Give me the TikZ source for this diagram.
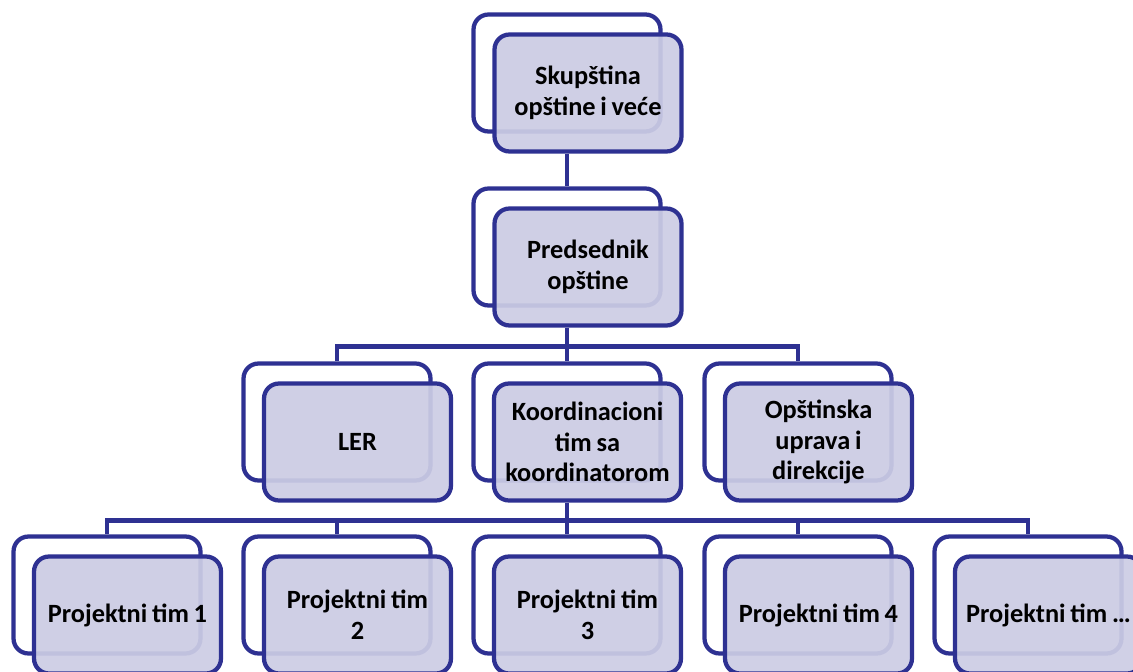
\documentclass[tikz,border=0pt]{standalone}
\usepackage{fontspec}
\setmainfont{Carlito}[WordSpace=0.8]
\definecolor{orgblue}{RGB}{46,49,146}
\definecolor{orgfill}{RGB}{204,204,228}
\tikzset{
  frame/.style={draw=orgblue, line width=0.085cm, rounded corners=0.3cm, fill=white,
    minimum width=3.74cm, minimum height=2.34cm},
  card/.style={frame, fill=orgfill, fill opacity=0.93, text opacity=1, align=flush center,
    text width=3.5cm, font=\bfseries\fontsize{15}{17.5}\selectfont},
  link/.style={draw=orgblue, line width=0.085cm}
}
\begin{document}
\begin{tikzpicture}[x=0.02cm,y=-0.02cm]
    \clip (0,0) rectangle (1133,672);
    % top two levels
    \node[frame] (sk-b) at (567,73) {};
    \node[card] (sk) at (588,93) {Skupština\\ opštine i veće};
    \node[frame] (pr-b) at (567,247) {};
    \node[card] (pr) at (588,267) {Predsednik\\ opštine};
    \draw[link] (sk-b.south |- sk.south) -- (pr-b.north);
    % third level
    \foreach \n/\x/\t in {
        ler/337/LER,
        ko/567/{Koordinacioni\\ tim sa\\ koordinatorom},
        op/798/{Opštinska\\ uprava i\\ direkcije}}{
            \node[frame] (\n-b) at (\x,422) {};
            \node[card] (\n) at (\x+20.5,442) {\t};
    }
    \draw[link] (pr-b.south |- pr.south) -- ++(0,19) coordinate (j1);
    \draw[link] (ler-b.north) |- (j1) -| (op-b.north);
    \draw[link] (j1) -- (ko-b.north);
    % project teams
    \foreach \n/\x/\t in {
        t1/107/Projektni tim 1,
        t2/337/{Projektni tim\\ 2},
        t3/567/{Projektni tim\\ 3},
        t4/798/Projektni tim 4,
        t5/1028/Projektni tim …}{
            \node[frame] (\n-b) at (\x,595) {};
            \node[card] (\n) at (\x+20.5,615) {\t};
    }
    \draw[link] (ko-b.south |- ko.south) -- ++(0,18) coordinate (j2);
    \draw[link] (t1-b.north) |- (j2) -| (t5-b.north);
    \foreach \n in {t2,t3,t4}
        \draw[link] (\n-b.north) -- (\n-b.north |- j2);
\end{tikzpicture}
\end{document}
